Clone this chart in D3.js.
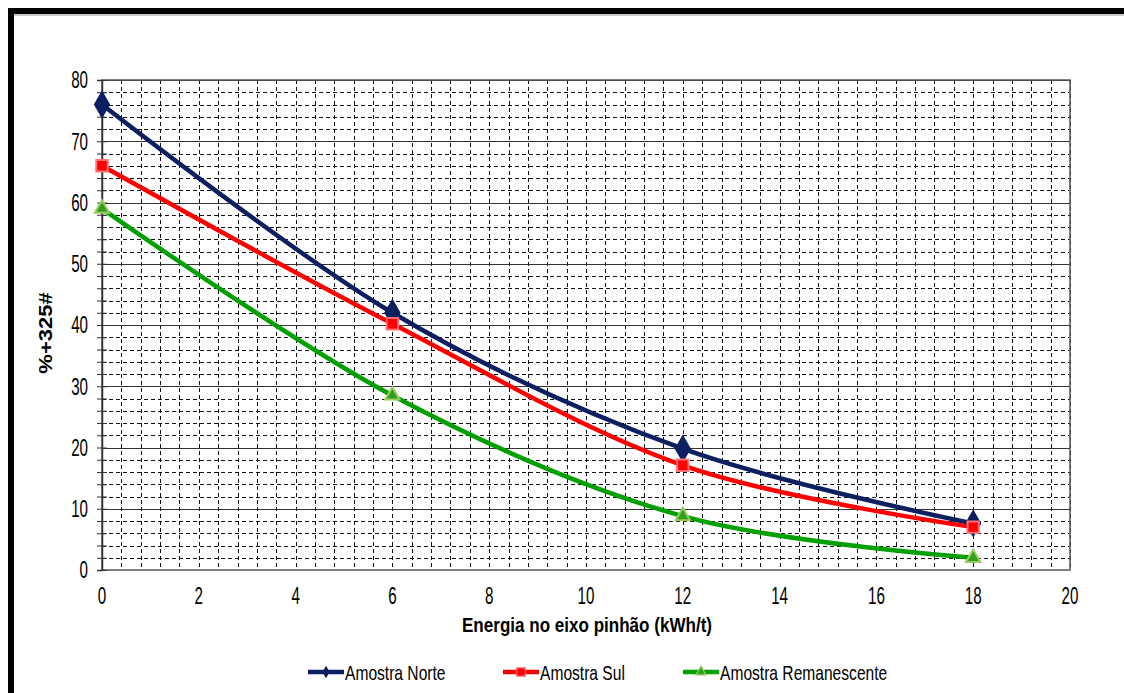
<!DOCTYPE html>
<html>
<head>
<meta charset="utf-8">
<script src="https://cdn.jsdelivr.net/npm/d3@7"></script>
<style>
  body { margin: 0; background: #fff; }
  text { font-family: "Liberation Sans", Arial, sans-serif; fill: #000; }
</style>
</head>
<body>
<svg id="chart" width="1124" height="693"></svg>
<script>
// energy on the pinion shaft (kWh/t)
const energia = [0, 6, 12, 18];
const norte = [76, 42, 19.8, 7.6];
const sul = [66, 40.2, 17.1, 7.0];
const remanescente = [59, 28.5, 8.8, 2.0];
const xTicks = [0, 2, 4, 6, 8, 10, 12, 14, 16, 18, 20];
const yTicks = [0, 10, 20, 30, 40, 50, 60, 70, 80];
const seriesNames = ["Amostra Norte", "Amostra Sul", "Amostra Remanescente"];

const svg = d3.select("#chart");
const plotLeft = 102, plotRight = 1070, plotTop = 80, plotBottom = 570;
const SX = 0.66; // text in the picture is squeezed sideways

// frame round the whole chart
svg.append("rect")
  .attr("x", 11).attr("y", 11)
  .attr("width", 1300).attr("height", 900)
  .attr("fill", "none").attr("stroke", "#000").attr("stroke-width", 6);
svg.append("line")
  .attr("x1", 14).attr("x2", 1124).attr("y1", 15).attr("y2", 15)
  .attr("stroke", "#999").attr("stroke-width", 1);

const x = d3.scaleLinear().domain([0, 20]).range([plotLeft, plotRight]);
const y = d3.scaleLinear().domain([0, 80]).range([plotBottom, plotTop]);

// grid
const grid = svg.append("g");
const minorY = d3.range(0, 81, 2).filter(v => v % 10 !== 0);
grid.selectAll(".ym").data(minorY).enter().append("line")
  .attr("x1", plotLeft).attr("x2", plotRight)
  .attr("y1", d => Math.round(y(d)) + 0.5).attr("y2", d => Math.round(y(d)) + 0.5)
  .attr("stroke", "#111").attr("stroke-dasharray", "4,3");
const vLines = d3.range(0, 20.01, 0.4).filter(v => v > 0.01);
grid.selectAll(".xm").data(vLines).enter().append("line")
  .attr("x1", d => Math.round(x(d)) + 0.5).attr("x2", d => Math.round(x(d)) + 0.5)
  .attr("y1", plotTop).attr("y2", plotBottom)
  .attr("stroke", "#111").attr("stroke-dasharray", "4,3");
grid.selectAll(".yM").data(yTicks.filter(v => v > 0)).enter().append("line")
  .attr("x1", plotLeft).attr("x2", plotRight)
  .attr("y1", d => Math.round(y(d)) + 0.5).attr("y2", d => Math.round(y(d)) + 0.5)
  .attr("stroke", "#333").attr("stroke-width", 1.2);
// plot border
svg.append("rect")
  .attr("x", plotLeft).attr("y", plotTop)
  .attr("width", plotRight - plotLeft).attr("height", plotBottom - plotTop)
  .attr("fill", "none").attr("stroke", "#555").attr("stroke-width", 1.5);

// left axis with crossing ticks
const yAxis = svg.append("g").attr("transform", `translate(${plotLeft},0)`)
  .call(d3.axisLeft(y).tickValues(d3.range(0, 81, 2)).tickSize(5).tickFormat(""));
yAxis.select(".domain").attr("stroke", "#333").attr("stroke-width", 1.5);
yAxis.selectAll(".tick line").attr("x2", -5).attr("x1", 5).attr("stroke", "#333");

// tick labels
svg.append("g").selectAll("text").data(yTicks).enter().append("text")
  .attr("transform", d => `translate(88,${y(d)}) scale(${SX},1)`)
  .attr("dy", "0.36em").attr("text-anchor", "end")
  .attr("font-size", 23).text(d => d);
svg.append("g").selectAll("text").data(xTicks).enter().append("text")
  .attr("transform", d => `translate(${x(d)},604) scale(${SX},1)`)
  .attr("text-anchor", "middle")
  .attr("font-size", 23).text(d => d);

// axis titles
svg.append("text")
  .attr("x", 587).attr("y", 632)
  .attr("text-anchor", "middle").attr("font-size", 21).attr("font-weight", "bold")
  .attr("textLength", 250).attr("lengthAdjust", "spacingAndGlyphs")
  .text("Energia no eixo pinhão (kWh/t)");
svg.append("text")
  .attr("transform", `translate(52,333) rotate(-90) scale(1,0.85)`)
  .attr("text-anchor", "middle").attr("font-size", 22).attr("font-weight", "bold")
  .text("%+325#");

// series
const series = [
  { name: seriesNames[0], values: norte, color: "#0c1f60", fill: "#0c1f60", edge: "#0c1f60", shape: d3.symbolDiamond, size: 170, legendSize: 30 },
  { name: seriesNames[1], values: sul, color: "#ff0000", fill: "#ff0000", edge: "#ff7070", shape: d3.symbolSquare, size: 130, legendSize: 70 },
  { name: seriesNames[2], values: remanescente, color: "#00a000", fill: "#2f9f20", edge: "#9ccc60", shape: d3.symbolTriangle, size: 90, legendSize: 45 }
];

const line = d3.line()
  .x((d, i) => x(energia[i]))
  .y(d => y(d))
  .curve(d3.curveCatmullRom.alpha(0));

series.forEach(s => {
  svg.append("path")
    .attr("d", line(s.values))
    .attr("fill", "none").attr("stroke", s.color).attr("stroke-width", 4.5);
});
series.forEach(s => {
  svg.append("g").selectAll("path").data(s.values).enter().append("path")
    .attr("d", d3.symbol().type(s.shape).size(s.size))
    .attr("transform", (d, i) => `translate(${x(energia[i])},${y(d)})`)
    .attr("fill", s.fill).attr("stroke", s.edge).attr("stroke-width", 2);
});

// legend
const legendX = [308, 503, 683];
series.forEach((s, i) => {
  const g = svg.append("g").attr("transform", `translate(${legendX[i]},672)`);
  g.append("line").attr("x1", 0).attr("x2", 36).attr("y1", 0).attr("y2", 0)
    .attr("stroke", s.color).attr("stroke-width", 4.5);
  g.append("path")
    .attr("d", d3.symbol().type(s.shape).size(s.legendSize))
    .attr("transform", "translate(18,0)")
    .attr("fill", s.fill).attr("stroke", s.edge).attr("stroke-width", 1.2);
  g.append("text")
    .attr("transform", `translate(37,7.5) scale(0.78,1)`)
    .attr("font-size", 20).text(s.name);
});
</script>
</body>
</html>
